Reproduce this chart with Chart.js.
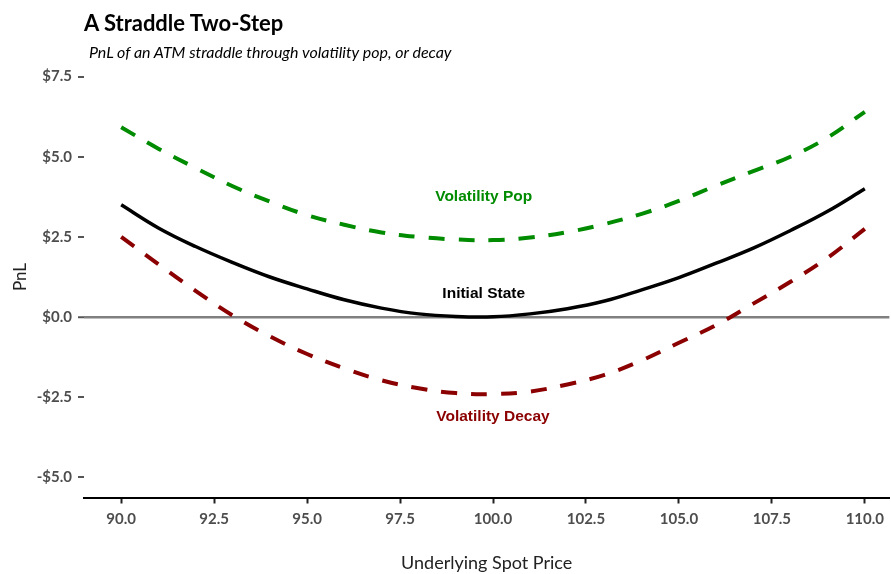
<!DOCTYPE html>
<html><head><meta charset="utf-8">
<script src="https://cdn.jsdelivr.net/npm/chart.js@4.4.0/dist/chart.umd.min.js"></script>
<style>
html,body{margin:0;padding:0;background:#fff;overflow:hidden;}
#wrap{position:relative;width:891px;height:574px;}
#c{position:absolute;left:0;top:0;}
.t{position:absolute;white-space:nowrap;font-family:Lato,sans-serif;line-height:1.2;color:#000;}
</style></head><body>
<div id="wrap">
<canvas id="c" width="891" height="574"></canvas>
<div class="t" style="left:84px;top:10px;font-size:22px;font-weight:700;">A Straddle Two-Step</div>
<div class="t" style="left:89px;top:41.5px;font-size:16px;font-style:italic;">PnL of an ATM straddle through volatility pop, or decay</div>
</div>
<script>
const spot = [90,91,92,93,94,95,96,97,98,99,100,101,102,103,104,105,106,107,108,109,110];
const initialState = [3.5,2.78,2.2,1.7,1.25,0.88,0.54,0.28,0.1,0.02,0.01,0.1,0.26,0.5,0.85,1.23,1.68,2.15,2.7,3.3,4.0];
const volPop = [5.92,5.25,4.65,4.08,3.6,3.18,2.88,2.64,2.5,2.42,2.4,2.48,2.65,2.9,3.22,3.62,4.1,4.55,5.0,5.6,6.4];
const volDecay = [2.5,1.65,0.82,0.05,-0.6,-1.15,-1.6,-1.97,-2.22,-2.37,-2.4,-2.32,-2.1,-1.8,-1.35,-0.8,-0.25,0.42,1.1,1.85,2.75];
const xTicks = [90,92.5,95,97.5,100,102.5,105,107.5,110];
const yTicks = [-5,-2.5,0,2.5,5,7.5];
const yTickLabels = ['-$5.0','-$2.5','$0.0','$2.5','$5.0','$7.5'];
const labelText = ['Volatility Pop','Initial State','Volatility Decay'];
const labelX = [99.75,99.75,100];
const labelY = [3.76,0.74,-3.12];
const labelColor = ['#008B00','#000000','#8B0000'];

const pts = arr => spot.map((x,i)=>({x:x,y:arr[i]}));

const labelPlugin = {
  id:'curveLabels',
  afterDatasetsDraw(chart){
    const {ctx, scales:{x,y}} = chart;
    ctx.save();
    ctx.font = 'bold 15.5px "Liberation Sans", Arial, sans-serif';
    ctx.textAlign = 'center';
    ctx.textBaseline = 'middle';
    labelText.forEach((t,i)=>{
      ctx.fillStyle = labelColor[i];
      ctx.fillText(t, x.getPixelForValue(labelX[i]), y.getPixelForValue(labelY[i]));
    });
    ctx.restore();
  }
};

new Chart(document.getElementById('c'), {
  type:'line',
  data:{
    datasets:[
      {label:'Initial State', data:pts(initialState), borderColor:'#000', borderWidth:3.5, pointRadius:0, tension:0.4, fill:false},
      {label:'Volatility Pop', data:pts(volPop), borderColor:'#008B00', borderWidth:4, borderDash:[16,14], borderCapStyle:'butt', pointRadius:0, tension:0.4, fill:false},
      {label:'Volatility Decay', data:pts(volDecay), borderColor:'#8B0000', borderWidth:4, borderDash:[16,14], borderCapStyle:'butt', pointRadius:0, tension:0.4, fill:false}
    ]
  },
  options:{
    responsive:false,
    devicePixelRatio:1,
    animation:false,
    layout:{padding:{top:56.5,left:0,right:0,bottom:0}},
    plugins:{legend:{display:false}, tooltip:{enabled:false}, title:{display:false}},
    scales:{
      x:{
        type:'linear', min:89, max:110.66,
        afterBuildTicks(s){ s.ticks = xTicks.map(v=>({value:v})); },
        afterFit(s){ s.height = 76.5; },
        ticks:{color:'#4d4d4d', font:{family:'Lato', size:15, weight:'bold'}, padding:7, maxRotation:0,
          callback:v=>v.toFixed(1)},
        grid:{display:true, drawOnChartArea:false, drawTicks:true, tickLength:6, tickColor:'#222', tickWidth:2},
        border:{display:true, color:'#000', width:2},
        title:{display:true, text:'Underlying Spot Price', color:'#222', font:{family:'Lato', size:18}, padding:{top:0,bottom:0}}
      },
      y:{
        type:'linear', min:-5.625, max:8.125,
        afterBuildTicks(s){ s.ticks = yTicks.map(v=>({value:v})); },
        afterFit(s){ s.width = 84; },
        ticks:{color:'#4d4d4d', font:{family:'Lato', size:15, weight:'bold'}, padding:6,
          callback:v=>yTickLabels[yTicks.indexOf(v)]},
        grid:{display:true, drawOnChartArea:true, drawTicks:true, tickLength:6,
          color:c=> (c.tick && c.tick.value===0) ? '#808080' : 'rgba(0,0,0,0)',
          lineWidth:c=> (c.tick && c.tick.value===0) ? 2.5 : 0,
          tickColor:'#555', tickWidth:2},
        border:{display:false},
        title:{display:true, text:'PnL', color:'#222', font:{family:'Lato', size:17}, padding:{top:10,bottom:0}}
      }
    }
  },
  plugins:[labelPlugin]
});
</script>
</body></html>
